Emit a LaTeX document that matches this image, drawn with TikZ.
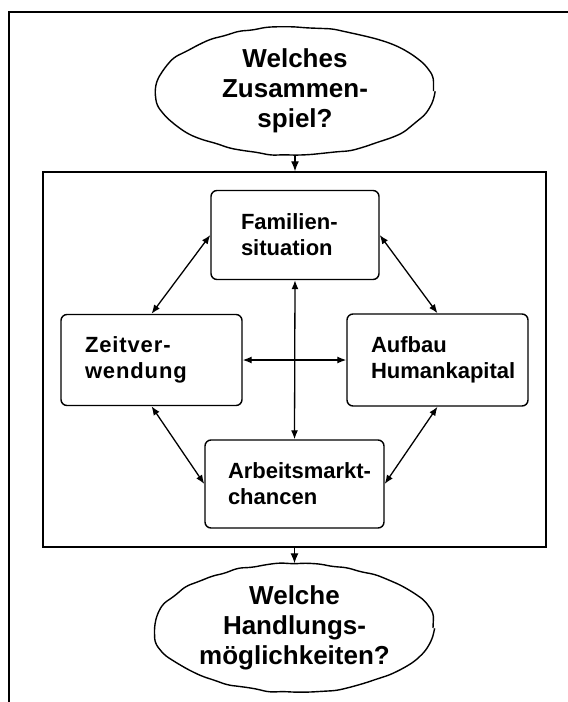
\documentclass[tikz,border=0pt]{standalone}
\usepackage{fontspec}
\setmainfont{Liberation Sans}
\usetikzlibrary{arrows.meta,shapes.geometric,decorations.pathmorphing}

\begin{document}
\pgfmathsetseed{11}
\begin{tikzpicture}[x = 1pt, y = -1pt,
  kasten/.style = {draw,line width=1.4pt,rounded corners=6pt,align=left,inner xsep=0pt,
                   font=\fontsize{22}{26}\selectfont\bfseries},
  wolke/.style = {draw,ellipse,line width=1.4pt,inner sep=0pt,minimum width=277pt,minimum height=128pt,
                  align=center,font=\fontsize{26}{30}\selectfont\bfseries,
                  decorate,decoration={random steps,segment length=14pt,amplitude=1.2pt},rounded corners=5pt},
  pfeil/.style = {line width=1.3pt,{Latex[length=9pt,width=7pt]}-{Latex[length=9pt,width=7pt]}},]

\useasboundingbox (0,0) rectangle (568,702);
\draw[line width=1.7pt] (568,12) -- (9,12) -- (9,702);

\node[wolke] (W) at (295,91) {Welches\\Zusammen-\\spiel?};
\node[draw,line width=1.5pt,minimum width=503pt,minimum height=375pt] (R) at (294.5,359.5) {};
\node[wolke] (H) at (294.5,628) {Welche\\Handlungs-\\möglichkeiten?};

\node[kasten,minimum width=168pt,minimum height=89pt,text width=108pt] (F) at (295,235) {Familien-\\situation};
\node[kasten,minimum width=181pt,minimum height=91pt,text width=133pt] (Z) at (151.5,360) {\addfontfeature{LetterSpace=4}Zeitver-\\wendung};
\node[kasten,minimum width=181pt,minimum height=92pt,text width=133pt] (A) at (437.5,360) {Aufbau\\Humankapital};
\node[kasten,minimum width=179pt,minimum height=88pt,text width=133pt] (M) at (294.5,484) {\hbox{Arbeitsmarkt-}\\chancen};

\draw[line width=1.2pt,-{Latex[length=10pt,width=8pt]}] (W) -- (W.south |- R.north);
\draw[line width=1.2pt,-{Latex[length=10pt,width=8pt]}] (R.south -| H.north) -- (H);

\draw[pfeil] (F.west) -- (Z.north);
\draw[pfeil] (F.east) -- (A.north);
\draw[pfeil] (F.south) -- (M.north);
\draw[pfeil] (Z.east) -- (A.west);
\draw[pfeil] (Z.south) -- (M.west);
\draw[pfeil] (A.south) -- (M.east);

\end{tikzpicture}
\end{document}
